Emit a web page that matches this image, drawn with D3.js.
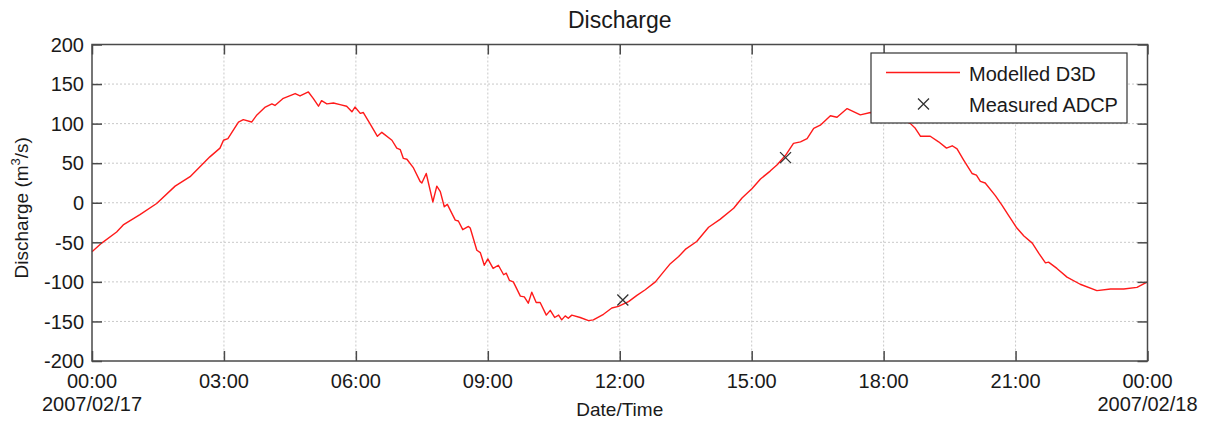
<!DOCTYPE html>
<html>
<head>
<meta charset="utf-8">
<script src="https://cdn.jsdelivr.net/npm/d3@7"></script>
<style>
  html, body { margin: 0; padding: 0; background: #fff; }
  svg text { font-family: "Liberation Sans", Arial, sans-serif; fill: #1a1a1a; }
</style>
</head>
<body>
<svg id="chart" width="1208" height="421"></svg>
<script>
// ---- Data (hours since 2007/02/17 00:00, discharge m3/s) ----
const modelHours = [0.00,0.22,0.56,0.71,1.09,1.47,1.89,2.23,2.68,2.91,2.99,3.09,3.33,3.44,3.63,3.75,3.94,4.09,4.16,4.35,4.62,4.73,4.92,5.03,5.15,5.22,5.34,5.49,5.64,5.79,5.91,5.98,6.10,6.17,6.32,6.49,6.59,6.82,6.93,7.01,7.08,7.16,7.31,7.46,7.50,7.60,7.75,7.84,7.92,8.01,8.08,8.26,8.33,8.43,8.56,8.60,8.75,8.83,8.92,9.00,9.12,9.24,9.36,9.42,9.49,9.58,9.74,9.83,9.92,10.00,10.10,10.19,10.33,10.42,10.52,10.61,10.68,10.76,10.83,10.91,11.10,11.29,11.40,11.63,11.82,11.97,12.20,12.39,12.58,12.81,13.00,13.15,13.34,13.49,13.75,14.02,14.28,14.59,14.78,15.01,15.20,15.42,15.58,15.77,15.95,16.11,16.26,16.41,16.56,16.79,16.94,17.17,17.47,17.70,17.95,18.25,18.45,18.61,18.72,18.84,19.06,19.25,19.43,19.56,19.67,19.82,20.01,20.11,20.20,20.31,20.54,20.69,20.84,21.03,21.19,21.38,21.53,21.68,21.75,21.94,22.17,22.47,22.85,23.16,23.46,23.76,24.00];
const modelValues = [-62,-51,-37,-28,-15,-1,21,33,58,69,79,81,102,105,102,111,121,125,123,132,138,135,140,132,122,129,125,126,124,122,115,121,113,114,100,84,89,79,69,67,56,55,44,27,25,37,1,21,14,-5,-2,-22,-23,-34,-30,-32,-60,-63,-79,-71,-83,-79,-91,-89,-98,-100,-118,-119,-127,-113,-126,-126,-142,-136,-145,-142,-148,-143,-146,-142,-145,-149,-148,-141,-133,-131,-125,-117,-110,-100,-87,-77,-68,-59,-49,-31,-21,-7,6,18,30,40,48,60,75,77,81,94,98,110,108,119,111,114,113,110,105,100,94,84,84,77,69,72,68,54,37,35,27,25,9,-3,-16,-32,-42,-51,-64,-76,-75,-83,-94,-103,-111,-109,-109,-107,-100];
const measuredHours = [12.07, 15.77];
const measuredValues = [-123, 57];
const yTicks = [-200,-150,-100,-50,0,50,100,150,200];
const startDateLabel = "2007/02/17";
const endDateLabel = "2007/02/18";
const titleText = "Discharge";
const xLabelText = "Date/Time";
const legendLabels = ["Modelled D3D", "Measured ADCP"];

// ---- Layout ----
const pL = 92, pR = 1147.5, pT = 44.5, pB = 361;
const base = new Date(2007, 1, 17, 0, 0, 0);
const toDate = h => new Date(base.getTime() + h * 3600 * 1000);
const endDate = toDate(24);

const x = d3.scaleTime().domain([base, endDate]).range([pL, pR]);
const y = d3.scaleLinear().domain([-200, 200]).range([pB, pT]);

const svg = d3.select("#chart");
const axisColor = "#4a4a4a";
const xTicks = d3.timeHour.every(3).range(base, toDate(24.01));

// Grid
const grid = svg.append("g");
grid.selectAll("line.gx").data(xTicks.slice(1, -1)).enter().append("line")
  .attr("x1", d => x(d)).attr("x2", d => x(d)).attr("y1", pT).attr("y2", pB)
  .attr("stroke", "#c9c9c9").attr("stroke-width", 1).attr("stroke-dasharray", "2,2");
grid.selectAll("line.gy").data(yTicks.slice(1, -1)).enter().append("line")
  .attr("x1", pL).attr("x2", pR).attr("y1", d => y(d)).attr("y2", d => y(d))
  .attr("stroke", "#c9c9c9").attr("stroke-width", 1).attr("stroke-dasharray", "2,2");

// Model line
const pts = modelHours.map((h, i) => ({ t: toDate(h), v: modelValues[i] }));
const line = d3.line().x(d => x(d.t)).y(d => y(d.v));
svg.append("path").datum(pts).attr("d", line)
  .attr("fill", "none").attr("stroke", "#ff1a1a").attr("stroke-width", 1.4)
  .attr("stroke-linejoin", "round");

// Measured markers
const ms = 5.5;
const meas = measuredHours.map((h, i) => ({ t: toDate(h), v: measuredValues[i] }));
const mg = svg.append("g").selectAll("g").data(meas).enter().append("g")
  .attr("transform", d => `translate(${x(d.t)},${y(d.v)})`);
mg.append("path").attr("d", `M${-ms},${-ms}L${ms},${ms}M${-ms},${ms}L${ms},${-ms}`)
  .attr("stroke", "#333").attr("stroke-width", 1.3).attr("fill", "none");

// Axes (box with inward ticks)
const tickLen = 10;
const xAxisB = d3.axisBottom(x).tickValues(xTicks).tickSize(-tickLen).tickFormat("");
const xAxisT = d3.axisTop(x).tickValues(xTicks).tickSize(-tickLen).tickFormat("");
const yAxisL = d3.axisLeft(y).tickValues(yTicks).tickSize(-tickLen).tickFormat("");
const yAxisR = d3.axisRight(y).tickValues(yTicks).tickSize(-tickLen).tickFormat("");
function styleAxis(g) {
  g.selectAll("path.domain").remove();
  g.selectAll(".tick line").attr("stroke", axisColor).attr("stroke-width", 1.5);
}
svg.append("g").attr("transform", `translate(0,${pB})`).call(xAxisB).call(styleAxis);
svg.append("g").attr("transform", `translate(0,${pT})`).call(xAxisT).call(styleAxis);
svg.append("g").attr("transform", `translate(${pL},0)`).call(yAxisL).call(styleAxis);
svg.append("g").attr("transform", `translate(${pR},0)`).call(yAxisR).call(styleAxis);
svg.append("rect").attr("x", pL).attr("y", pT).attr("width", pR - pL).attr("height", pB - pT)
  .attr("fill", "none").attr("stroke", axisColor).attr("stroke-width", 1.5);

// Tick labels
const fmt = d3.timeFormat("%H:%M");
svg.append("g").selectAll("text").data(xTicks).enter().append("text")
  .attr("x", d => x(d)).attr("y", 388).attr("text-anchor", "middle")
  .attr("font-size", 20).text(d => fmt(d));
svg.append("text").attr("x", x(base)).attr("y", 411).attr("text-anchor", "middle")
  .attr("font-size", 20).text(startDateLabel);
svg.append("text").attr("x", x(endDate)).attr("y", 411).attr("text-anchor", "middle")
  .attr("font-size", 20).text(endDateLabel);
svg.append("g").selectAll("text").data(yTicks).enter().append("text")
  .attr("x", pL - 8).attr("y", d => y(d)).attr("dy", "0.36em").attr("text-anchor", "end")
  .attr("font-size", 20).text(d => d);

// Titles
svg.append("text").attr("x", (pL + pR) / 2).attr("y", 28).attr("text-anchor", "middle")
  .attr("font-size", 23).text(titleText);
svg.append("text").attr("x", (pL + pR) / 2).attr("y", 416).attr("text-anchor", "middle")
  .attr("font-size", 19).text(xLabelText);
const yl = svg.append("text").attr("transform", `translate(28,${(pT + pB) / 2 + 5}) rotate(-90)`)
  .attr("text-anchor", "middle").attr("font-size", 19);
yl.append("tspan").text("Discharge (m");
yl.append("tspan").attr("font-size", 13).attr("dy", -8).text("3");
yl.append("tspan").attr("dy", 8).text("/s)");

// Legend
const lg = svg.append("g");
lg.append("rect").attr("x", 871).attr("y", 53).attr("width", 256).attr("height", 70)
  .attr("fill", "#fff").attr("stroke", "#333").attr("stroke-width", 1.2);
lg.append("line").attr("x1", 886).attr("x2", 960).attr("y1", 72.5).attr("y2", 72.5)
  .attr("stroke", "#ff1a1a").attr("stroke-width", 1.4);
lg.append("path").attr("transform", "translate(923.5,104)")
  .attr("d", `M${-ms},${-ms}L${ms},${ms}M${-ms},${ms}L${ms},${-ms}`)
  .attr("stroke", "#333").attr("stroke-width", 1.3);
lg.append("text").attr("x", 969).attr("y", 80.5).attr("font-size", 20).text(legendLabels[0]);
lg.append("text").attr("x", 969).attr("y", 111.7).attr("font-size", 20).text(legendLabels[1]);
</script>
</body>
</html>
